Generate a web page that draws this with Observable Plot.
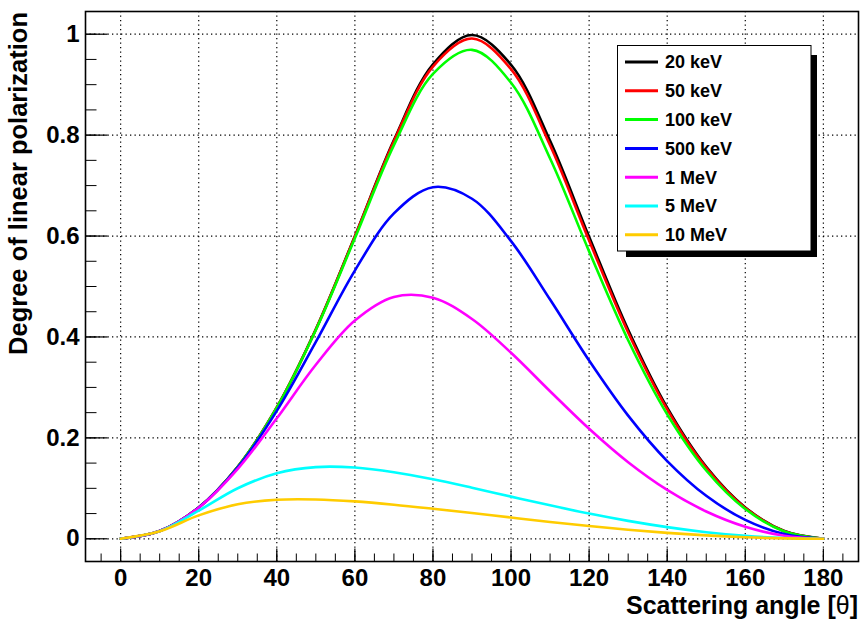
<!DOCTYPE html>
<html><head><meta charset="utf-8">
<script src="https://cdn.jsdelivr.net/npm/d3@7"></script>
<script src="https://cdn.jsdelivr.net/npm/@observablehq/plot@0.6"></script>
<style>
body{margin:0;background:#fff}
svg{display:block}
</style>
</head><body><div id="chart"></div>
<script>
// Scattering angle (degrees)
const angles = [0,10,20,30,40,50,60,70,80,90,100,110,120,130,140,150,160,170,180];
// Series (photon energies)
const series = ["20 keV","50 keV","100 keV","500 keV","1 MeV","5 MeV","10 MeV"];
const colors = ["#000000","#ff0000","#00ff00","#0000ff","#ff00ff","#00ffff","#ffcc00"];
// Degree of linear polarization
const p20keV  = [0,.0153,.0621,.1429,.2604,.4152,.5998,.7901,.9404,.9985,.9395,.7887,.5984,.4141,.2597,.1425,.0620,.0153,0];
const p50keV  = [0,.0153,.0621,.1428,.2603,.4149,.5989,.7878,.9359,.9914,.9307,.7799,.5911,.4088,.2563,.1406,.0612,.0151,0];
const p100keV = [0,.0153,.0621,.1428,.2601,.4139,.5958,.7802,.9212,.9690,.9037,.7537,.5696,.3935,.2466,.1353,.0589,.0145,0];
const p500keV = [0,.0153,.0620,.1416,.2536,.3902,.5316,.6449,.6968,.6739,.5899,.4741,.3533,.2441,.1541,.0853,.0374,.0093,0];
const p1MeV   = [0,.0153,.0617,.1385,.2388,.3450,.4326,.4794,.4778,.4357,.3687,.2925,.2181,.1518,.0968,.0541,.0239,.0060,0];
const p5MeV   = [0,.0152,.0557,.1002,.1299,.1421,.1412,.1320,.1179,.1012,.0836,.0663,.0500,.0355,.0231,.0131,.0059,.0015,0];
const p10MeV  = [0,.0148,.0464,.0685,.0773,.0779,.0741,.0676,.0596,.0510,.0421,.0334,.0253,.0180,.0118,.0067,.0030,.0008,0];
const values = [p20keV,p50keV,p100keV,p500keV,p1MeV,p5MeV,p10MeV];
// Ticks
const xTicks = [0,20,40,60,80,100,120,140,160,180];
const xMinor = [-5,0,5,10,15,20,25,30,35,40,45,50,55,60,65,70,75,80,85,90,95,100,105,110,115,120,125,130,135,140,145,150,155,160,165,170,175,180,185];
const yTicks = [0,0.2,0.4,0.6,0.8,1];
const yTickLabels = ["0","0.2","0.4","0.6","0.8","1"];
const yMinor = [0,0.05,0.1,0.15,0.2,0.25,0.3,0.35,0.4,0.45,0.5,0.55,0.6,0.65,0.7,0.75,0.8,0.85,0.9,0.95,1];
const xTitle = "Scattering angle [";
const yTitle = "Degree of linear polarization";

const data = [];
series.forEach((s, si) => angles.forEach((a, i) => data.push({series: s, angle: a, value: values[si][i]})));

const tickShape = {draw(ctx, l) { ctx.moveTo(0, 0); ctx.lineTo(0, -l); }};
const FONT = "'Liberation Sans', Arial, Helvetica, sans-serif";

const chart = Plot.plot({
  width: 863, height: 620,
  marginLeft: 85, marginRight: 5, marginTop: 11, marginBottom: 59,
  x: {domain: [-9, 189]},
  y: {domain: [-0.045, 1.045]},
  color: {domain: series, range: colors},
  style: {fontFamily: FONT, fontWeight: "bold", background: "white", color: "black"},
  marks: [
    Plot.gridX(xTicks, {stroke: "black", strokeOpacity: 1, strokeWidth: 1.2, strokeDasharray: "1.3,3.2"}),
    Plot.gridY(yTicks, {stroke: "black", strokeOpacity: 1, strokeWidth: 1.2, strokeDasharray: "1.3,3.2"}),
    Plot.line(data, {x: "angle", y: "value", z: "series", stroke: "series", strokeWidth: 2.6, curve: "catmull-rom"}),
    Plot.vector(xMinor, {x: d => d, frameAnchor: "bottom", length: 8, rotate: 0, anchor: "start", shape: tickShape, stroke: "black", strokeWidth: 1, strokeLinecap: "butt"}),
    Plot.vector(xTicks, {x: d => d, frameAnchor: "bottom", length: 13, rotate: 0, anchor: "start", shape: tickShape, stroke: "black", strokeWidth: 1.2, strokeLinecap: "butt"}),
    Plot.vector(yMinor, {y: d => d, frameAnchor: "left", length: 11, rotate: 90, anchor: "start", shape: tickShape, stroke: "black", strokeWidth: 1, strokeLinecap: "butt"}),
    Plot.vector(yTicks, {y: d => d, frameAnchor: "left", length: 22, rotate: 90, anchor: "start", shape: tickShape, stroke: "black", strokeWidth: 1.2, strokeLinecap: "butt"}),
    Plot.axisX(xTicks, {tickSize: 0, tickPadding: 7, fontSize: 24, fontWeight: "bold", label: null, tickFormat: d => String(d)}),
    Plot.axisY(yTicks, {tickSize: 0, tickPadding: 6, fontSize: 24, fontWeight: "bold", label: null, tickFormat: d => yTickLabels[yTicks.indexOf(d)]}),
    Plot.frame({stroke: "black", strokeWidth: 1.6})
  ]
});
document.getElementById("chart").appendChild(chart);

const svg = d3.select(chart);
// Axis titles
svg.append("text")
  .attr("transform", "translate(27,12) rotate(-90)")
  .attr("text-anchor", "end")
  .style("font", `bold 25.5px ${FONT}`)
  .attr("fill", "black")
  .text(yTitle);
const xt = svg.append("text")
  .attr("x", 858).attr("y", 614)
  .attr("text-anchor", "end")
  .style("font", `bold 25px ${FONT}`)
  .attr("fill", "black");
xt.append("tspan").text(xTitle);
xt.append("tspan").style("font-weight", "normal").text("θ");
xt.append("tspan").text("]");

// Legend
const lg = svg.append("g").attr("text-anchor", "start");
lg.append("rect").attr("x", 811).attr("y", 55).attr("width", 6).attr("height", 202).attr("fill", "black");
lg.append("rect").attr("x", 626).attr("y", 251).attr("width", 191).attr("height", 6).attr("fill", "black");
lg.append("rect").attr("x", 617.5).attr("y", 45.5).attr("width", 193.5).attr("height", 205.5)
  .attr("fill", "white").attr("stroke", "black").attr("stroke-width", 1);
series.forEach((s, i) => {
  const cy = 62 + i * 28.8;
  lg.append("line").attr("x1", 625).attr("x2", 658).attr("y1", cy).attr("y2", cy)
    .attr("stroke", colors[i]).attr("stroke-width", 3);
  lg.append("text").attr("x", 665).attr("y", cy).attr("dy", "0.35em")
    .attr("text-anchor", "start")
    .style("font", `bold 18px ${FONT}`).attr("fill", "black").text(s);
});
</script>
</body></html>
